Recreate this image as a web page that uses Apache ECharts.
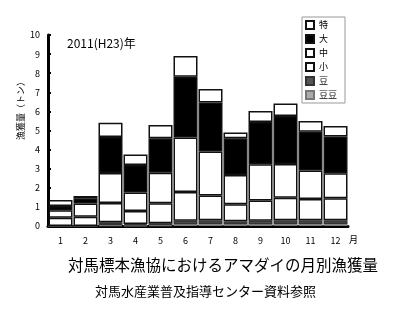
<!DOCTYPE html>
<html><head><meta charset="utf-8">
<script src="https://cdn.jsdelivr.net/npm/echarts@6/dist/echarts.min.js"></script>
<style>html,body{margin:0;padding:0;background:#fff}#c{width:400px;height:310px}</style>
</head><body><div id="c"></div>
<script>
const months = ['1','2','3','4','5','6','7','8','9','10','11','12'];
const yTicks = [0,1,2,3,4,5,6,7,8,9,10];
const toku  = [0.31,0.12,0.75,0.56,0.70,1.08,0.70,0.31,0.58,0.66,0.56,0.56];
const dai   = [0.22,0.27,1.89,1.43,1.80,3.18,2.57,1.92,2.21,2.51,2.04,1.92];
const chu   = [0.40,0.70,1.57,0.97,1.60,2.86,2.30,1.53,1.90,1.77,1.49,1.31];
const sho   = [0.43,0.48,1.00,0.69,1.04,1.50,1.30,0.89,1.05,1.18,1.11,1.15];
const mame  = [0.00,0.00,0.15,0.07,0.10,0.20,0.20,0.17,0.20,0.20,0.20,0.20];
const mame2 = [0.00,0.00,0.05,0.03,0.05,0.08,0.10,0.08,0.08,0.10,0.10,0.10];

const F = 'Noto Sans CJK JP';
const chart = echarts.init(document.getElementById('c'));
function s(name, data, color, border) {
  return {name, type:'bar', stack:'t', data, barCategoryGap:'4%',
    itemStyle:{color, borderColor:border||'#111', borderWidth:1.5}};
}
chart.setOption({
  animation:false,
  textStyle:{fontFamily:F},
  grid:{left:48,right:52,top:35,bottom:84},
  legend:{orient:'vertical', left:302, top:17, itemWidth:8, itemHeight:8, itemGap:4,
    padding:[3,8,3,3], borderColor:'#999', borderWidth:1,
    textStyle:{fontSize:9, color:'#000', fontFamily:F},
    data:['特','大','中','小','豆','豆豆'].map(n=>({name:n, icon:'rect'}))},
  xAxis:{type:'category', data:months, axisTick:{show:false},
    axisLine:{lineStyle:{color:'#000', width:3}},
    axisLabel:{fontSize:9, color:'#000', margin:10}},
  yAxis:{type:'value', min:0, max:10, interval:1,
    axisLine:{show:true, lineStyle:{color:'#000', width:3}},
    axisTick:{show:true, inside:true, length:3, lineStyle:{color:'#000', width:2}},
    splitLine:{show:false},
    axisLabel:{fontSize:9, color:'#000', margin:8, formatter:v=>yTicks.includes(v)?String(v):''}},
  series:[
    s('豆豆', mame2, '#aaa', '#777'),
    s('豆', mame, '#555', '#333'),
    s('小', sho, '#fff'),
    s('中', chu, '#fff'),
    s('大', dai, '#000'),
    s('特', toku, '#fff')
  ],
  graphic:[
    {type:'text', left:67, top:37, style:{text:'2011(H23)年', fontSize:12, fill:'#000', fontFamily:F}},
    {type:'text', left:349, top:235, style:{text:'月', fontSize:9, fill:'#000', fontFamily:F}},
    {type:'text', x:16, y:140, rotation:Math.PI/2, style:{text:'漁獲量（トン）', fontSize:9, fill:'#000', fontFamily:F}},
    {type:'text', left:68, top:257, style:{text:'対馬標本漁協におけるアマダイの月別漁獲量', fontSize:15.5, fill:'#000', fontFamily:F}},
    {type:'text', left:95, top:285, style:{text:'対馬水産業普及指導センター資料参照', fontSize:13, fill:'#000', fontFamily:F}}
  ]
});
</script></body></html>
